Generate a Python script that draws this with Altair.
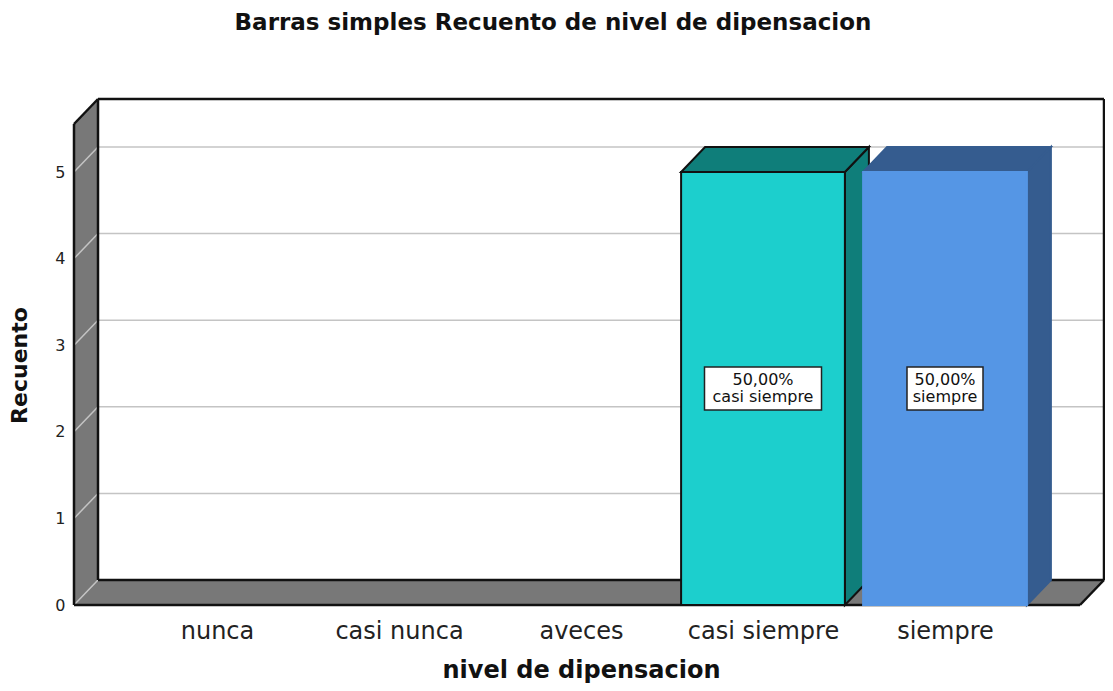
import altair as alt
import pandas as pd

# ---------------- data ----------------
categories = ["nunca", "casi nunca", "aveces", "casi siempre", "siempre"]
counts = [0, 0, 0, 5, 5]
y_ticks = [0, 1, 2, 3, 4, 5]

# ---------------- styles ----------------
front_colors = {"casi siempre": "#1ccfcd", "siempre": "#5596e5"}
shade_colors = {"casi siempre": "#0f7e7a", "siempre": "#355c8f"}
edge_colors = {"casi siempre": "#111111", "siempre": "#5596e5"}
shade_edges = {"casi siempre": "#111111", "siempre": "#355c8f"}
label_box_px = {"casi siempre": 117, "siempre": 76}
WALL = "#787878"
GRID = "#c4c4c4"
FONT = "DejaVu Sans"

# ---------------- geometry (plot px -> data units) ----------------
W, H = 1030, 506
STEP = 182.0          # px per category
X0_PX = 143.0         # plot px of first category centre
PX_PER_UNIT = 86.6    # px per count
DEPTH_X_PX, DEPTH_Y_PX = 24.0, 25.0
BAR_HALF = 0.45
BOX_HALF_H_PX = 21.5

XMIN = -X0_PX / STEP
XMAX = (W - X0_PX) / STEP
YMAX = H / PX_PER_UNIT
DX = DEPTH_X_PX / STEP
DY = DEPTH_Y_PX / PX_PER_UNIT
YTOP_FRONT = YMAX - DY
XR_FRONT = XMAX - DX

xscale = alt.Scale(domain=[XMIN, XMAX], nice=False, zero=False)
yscale = alt.Scale(domain=[0, YMAX], nice=False, zero=False)


def X(f):
    return alt.X(f, type="quantitative", scale=xscale, axis=None)


def Y(f):
    return alt.Y(f, type="quantitative", scale=yscale, axis=None, stack=False)


# ---------------- axis carrier (invisible points at tick positions) ----------------
label_expr = "[" + ",".join(f"'{c}'" for c in categories) + "][datum.value]"
axis_df = pd.DataFrame({"xv": list(range(len(categories))) + [0], "yv": y_ticks})
axes = alt.Chart(axis_df).mark_point(opacity=0).encode(
    x=alt.X("xv", type="quantitative", scale=xscale, axis=alt.Axis(
        values=list(range(len(categories))), labelExpr=label_expr,
        ticks=False, domain=False, grid=False,
        labelFont=FONT, labelFontSize=24, labelColor="#222222",
        labelPadding=33, labelBaseline="alphabetic", labelFlush=False, labelOverlap=False,
        title="nivel de dipensacion", titleFont=FONT, titleFontSize=24,
        titleFontWeight="bold", titleColor="#111111",
        titleX=507, titleY=72, titleBaseline="alphabetic", titleAlign="center")),
    y=alt.Y("yv", type="quantitative", scale=yscale, axis=alt.Axis(
        values=y_ticks, ticks=False, domain=False, grid=False,
        labelFont=FONT, labelFontSize=16, labelColor="#222222",
        labelPadding=9, labelBaseline="middle",
        title="Recuento", titleFont=FONT, titleFontSize=22, titleFontWeight="bold",
        titleColor="#111111", titleAngle=270,
        titleX=-48, titleY=266, titleBaseline="alphabetic", titleAlign="center")),
)

# ---------------- frame: walls and floor ----------------
back_df = pd.DataFrame([{"x": XMIN + DX, "x2": XMAX, "y": DY, "y2": YMAX}])
back = alt.Chart(back_df).mark_rect(fill="white", strokeWidth=0).encode(
    x=X("x"), x2="x2", y=Y("y"), y2="y2")

left_df = pd.DataFrame([
    {"x": XMIN, "y": 0.0, "y2": YTOP_FRONT},
    {"x": XMIN + DX, "y": DY, "y2": YMAX},
])
left_wall = alt.Chart(left_df).mark_area(orient="vertical", fill=WALL, strokeWidth=0).encode(
    x=X("x"), y=Y("y"), y2="y2")

floor_df = pd.DataFrame([
    {"y": 0.0, "x": XMIN, "x2": XR_FRONT},
    {"y": DY, "x": XMIN + DX, "x2": XMAX},
])
floor = alt.Chart(floor_df).mark_area(orient="horizontal", fill=WALL, strokeWidth=0).encode(
    y=alt.Y("y", type="quantitative", scale=yscale, axis=None),
    x=alt.X("x", type="quantitative", scale=xscale, axis=None, stack=False), x2="x2")

grid_rows = []
for v in y_ticks:
    grid_rows.append({"x": XMIN, "y": v, "x2": XMIN + DX, "y2": v + DY})
    if v > 0:
        grid_rows.append({"x": XMIN + DX, "y": v + DY, "x2": XMAX, "y2": v + DY})
grid = alt.Chart(pd.DataFrame(grid_rows)).mark_rule(color=GRID, strokeWidth=1.5).encode(
    x=X("x"), x2="x2", y=Y("y"), y2="y2")

edge_rows = [
    {"x": XMIN, "y": 0.0, "x2": XMIN, "y2": YTOP_FRONT},
    {"x": XMIN, "y": YTOP_FRONT, "x2": XMIN + DX, "y2": YMAX},
    {"x": XMIN + DX, "y": YMAX, "x2": XMAX, "y2": YMAX},
    {"x": XMAX, "y": DY, "x2": XMAX, "y2": YMAX},
    {"x": XMIN + DX, "y": DY, "x2": XMIN + DX, "y2": YMAX},
    {"x": XMIN + DX, "y": DY, "x2": XMAX, "y2": DY},
    {"x": XMIN, "y": 0.0, "x2": XR_FRONT, "y2": 0.0},
    {"x": XR_FRONT, "y": 0.0, "x2": XMAX, "y2": DY},
]
edges = alt.Chart(pd.DataFrame(edge_rows)).mark_rule(color="#111111", strokeWidth=2.5).encode(
    x=X("x"), x2="x2", y=Y("y"), y2="y2")

# ---------------- bars ----------------
total = sum(counts)
front_rows, side_rows, top_rows, label_rows = [], [], [], []
for i, (c, n) in enumerate(zip(categories, counts)):
    if n <= 0:
        continue
    front_rows.append({"cat": c, "x": i - BAR_HALF, "x2": i + BAR_HALF, "y": 0.0, "y2": n,
                       "fill": front_colors[c], "edge": edge_colors[c]})
    side_rows += [
        {"cat": c, "x": i + BAR_HALF, "y": 0.0, "y2": n,
         "fill": shade_colors[c], "edge": shade_edges[c]},
        {"cat": c, "x": i + BAR_HALF + DX, "y": DY, "y2": n + DY,
         "fill": shade_colors[c], "edge": shade_edges[c]},
    ]
    top_rows += [
        {"cat": c, "y": n, "x": i - BAR_HALF, "x2": i + BAR_HALF,
         "fill": shade_colors[c], "edge": shade_edges[c]},
        {"cat": c, "y": n + DY, "x": i - BAR_HALF + DX, "x2": i + BAR_HALF + DX,
         "fill": shade_colors[c], "edge": shade_edges[c]},
    ]
    pct = f"{n / total * 100:.2f}%".replace(".", ",")
    hw = label_box_px[c] / 2 / STEP
    hh = BOX_HALF_H_PX / PX_PER_UNIT
    label_rows.append({"cat": c, "xc": i, "yc": n / 2, "l1": pct, "l2": c,
                       "x": i - hw, "x2": i + hw, "y": n / 2 - hh, "y2": n / 2 + hh})

side = alt.Chart(pd.DataFrame(side_rows)).mark_area(
    orient="vertical", strokeWidth=2, strokeJoin="miter").encode(
    x=X("x"), y=Y("y"), y2="y2",
    fill=alt.Fill("fill:N", scale=None), stroke=alt.Stroke("edge:N", scale=None),
    detail="cat:N")

top = alt.Chart(pd.DataFrame(top_rows)).mark_area(
    orient="horizontal", strokeWidth=2, strokeJoin="miter").encode(
    y=alt.Y("y", type="quantitative", scale=yscale, axis=None),
    x=alt.X("x", type="quantitative", scale=xscale, axis=None, stack=False), x2="x2",
    fill=alt.Fill("fill:N", scale=None), stroke=alt.Stroke("edge:N", scale=None),
    detail="cat:N")

front = alt.Chart(pd.DataFrame(front_rows)).mark_rect(strokeWidth=2, strokeJoin="miter").encode(
    x=X("x"), x2="x2", y=Y("y"), y2="y2",
    fill=alt.Fill("fill:N", scale=None), stroke=alt.Stroke("edge:N", scale=None))

label_df = pd.DataFrame(label_rows)
boxes = alt.Chart(label_df).mark_rect(fill="white", stroke="#222222", strokeWidth=1.5).encode(
    x=X("x"), x2="x2", y=Y("y"), y2="y2")
text1 = alt.Chart(label_df).mark_text(
    font=FONT, fontSize=16, color="#111111", align="center", baseline="alphabetic", dy=-4).encode(
    x=X("xc"), y=Y("yc"), text="l1:N")
text2 = alt.Chart(label_df).mark_text(
    font=FONT, fontSize=16, color="#111111", align="center", baseline="alphabetic", dy=13).encode(
    x=X("xc"), y=Y("yc"), text="l2:N")

chart = alt.layer(
    axes, back, left_wall, floor, grid, edges, side, top, front, boxes, text1, text2
).resolve_axis(
    x="independent", y="independent"
).properties(
    width=W, height=H,
    title=alt.TitleParams(
        "Barras simples Recuento de nivel de dipensacion",
        font=FONT, fontSize=23, fontWeight="bold", color="#111111",
        anchor="middle", dx=-36, offset=63),
    padding={"left": 66, "top": 91, "right": 1, "bottom": 78},
    autosize=alt.AutoSizeParams(type="none"),
).configure_view(stroke=None)

chart.save("out.html", embed_options={"renderer": "svg", "actions": False})
